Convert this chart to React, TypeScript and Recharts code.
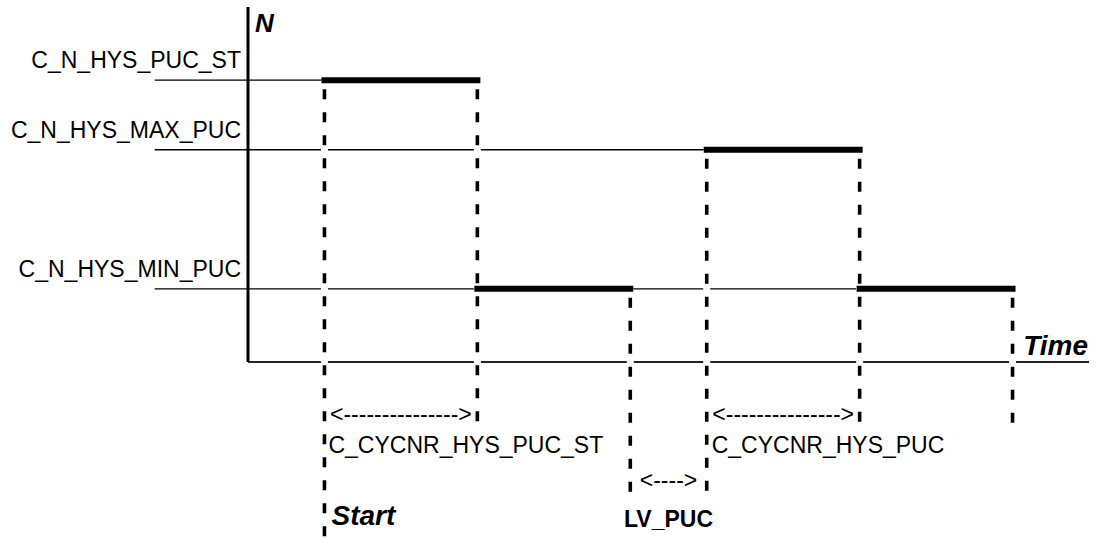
import { ComposedChart, XAxis, YAxis, ReferenceLine, ReferenceDot } from 'recharts'

// speed levels (N axis, arbitrary units)
const levelNames = ['C_N_HYS_MIN_PUC', 'C_N_HYS_MAX_PUC', 'C_N_HYS_PUC_ST']
const levelValues = [20, 58, 77]
// thin guide lines start left of the axis and stop where the level is first used
const levelLineStart = -1.22
const levelLineEnd = [8, 6, 1]

// thick phases: time from / to and level
const phaseStart = [1, 3, 6, 8]
const phaseEnd = [3, 5, 8, 10]
const phaseLevel = [77, 20, 58, 20]

// dashed event markers
const markerTime = [1, 3, 5, 6, 8, 10]
const markerTop = [77, 77, 20, 58, 58, 20]
const markerBottom = [-48, -17.5, -37, -37, -17.5, -17.5]

const timeMax = 11
const nMax = 97

const FONT = '"Liberation Sans", Arial, Helvetica, sans-serif'

type Note = {
    text: string
    t: number
    v: number
    dx: number
    dy: number
    anchor: 'start' | 'middle' | 'end'
    size: number
    bold?: boolean
    italic?: boolean
}

const notes: Note[] = [
    ...levelNames.map((name, i): Note => ({
        text: name, t: 0, v: levelValues[i], dx: -7, dy: -12, anchor: 'end', size: 23,
    })),
    { text: 'N', t: 0, v: nMax, dx: 7, dy: 25, anchor: 'start', size: 26, bold: true, italic: true },
    { text: 'Time', t: timeMax, v: 0, dx: -1, dy: -7, anchor: 'end', size: 28, bold: true, italic: true },
    { text: '<--------------->', t: 2, v: 0, dx: 0, dy: 59.5, anchor: 'middle', size: 23 },
    { text: '<--------------->', t: 7, v: 0, dx: 0, dy: 59.5, anchor: 'middle', size: 23 },
    { text: 'C_CYCNR_HYS_PUC_ST', t: 1, v: 0, dx: 4, dy: 91, anchor: 'start', size: 23 },
    { text: 'C_CYCNR_HYS_PUC', t: 6, v: 0, dx: 5, dy: 91, anchor: 'start', size: 23 },
    { text: '<---->', t: 5.5, v: 0, dx: 0, dy: 126, anchor: 'middle', size: 23 },
    { text: 'Start', t: 1, v: 0, dx: 7, dy: 163, anchor: 'start', size: 28, bold: true, italic: true },
    { text: 'LV_PUC', t: 5.5, v: 0, dx: 0, dy: 165, anchor: 'middle', size: 23, bold: true },
]

function NoteText({ viewBox, note }: { viewBox?: { x: number; y: number }; note: Note }) {
    if (!viewBox) return null
    return (
        <text
            x={viewBox.x + note.dx}
            y={viewBox.y + note.dy}
            textAnchor={note.anchor}
            fontFamily={FONT}
            fontSize={note.size}
            fontWeight={note.bold ? 'bold' : 'normal'}
            fontStyle={note.italic ? 'italic' : 'normal'}
            fill="#000"
        >
            {note.text}
        </text>
    )
}

export default function App() {
    return (
        <div style={{ width: 1097, height: 538, background: '#fff' }}>
            <style>{'body{margin:0}'}</style>
            <ComposedChart
                width={1097}
                height={538}
                data={[]}
                margin={{ top: 7, right: 8, bottom: 176, left: 248 }}
            >
                <XAxis type="number" dataKey="t" domain={[0, timeMax]} hide allowDataOverflow />
                <YAxis type="number" domain={[0, nMax]} hide allowDataOverflow />

                {/* axes */}
                <ReferenceLine
                    segment={[{ x: 0, y: 0 }, { x: timeMax, y: 0 }]}
                    stroke="#222"
                    strokeWidth={2}
                    ifOverflow="visible"
                />
                <ReferenceLine
                    segment={[{ x: 0, y: 0 }, { x: 0, y: nMax }]}
                    stroke="#000"
                    strokeWidth={3}
                    ifOverflow="visible"
                />

                {/* thin level guides */}
                {levelValues.map((v, i) => (
                    <ReferenceLine
                        key={`lvl-${i}`}
                        segment={[{ x: levelLineStart, y: v }, { x: levelLineEnd[i], y: v }]}
                        stroke="#000"
                        strokeWidth={1.3}
                        ifOverflow="visible"
                    />
                ))}

                {/* white halo behind the dashed markers */}
                {markerTime.map((t, i) => (
                    <ReferenceLine
                        key={`halo-${i}`}
                        segment={[{ x: t, y: markerTop[i] }, { x: t, y: markerBottom[i] }]}
                        stroke="#fff"
                        strokeWidth={7}
                        ifOverflow="visible"
                    />
                ))}

                {/* dashed markers */}
                {markerTime.map((t, i) => (
                    <ReferenceLine
                        key={`mark-${i}`}
                        segment={[{ x: t, y: markerTop[i] }, { x: t, y: markerBottom[i] }]}
                        stroke="#000"
                        strokeWidth={3.6}
                        strokeDasharray="10 13"
                        strokeDashoffset={14}
                        ifOverflow="visible"
                    />
                ))}

                {/* thick phases */}
                {phaseStart.map((s, i) => (
                    <ReferenceLine
                        key={`phase-${i}`}
                        segment={[{ x: s, y: phaseLevel[i] }, { x: phaseEnd[i], y: phaseLevel[i] }]}
                        stroke="#000"
                        strokeWidth={6}
                        strokeLinecap="square"
                        ifOverflow="visible"
                    />
                ))}

                {/* texts */}
                {notes.map((n, i) => (
                    <ReferenceDot
                        key={`note-${i}`}
                        x={n.t}
                        y={n.v}
                        r={0}
                        stroke="none"
                        fill="none"
                        ifOverflow="visible"
                        label={(p: any) => <NoteText viewBox={p.viewBox} note={n} />}
                    />
                ))}
            </ComposedChart>
        </div>
    )
}
